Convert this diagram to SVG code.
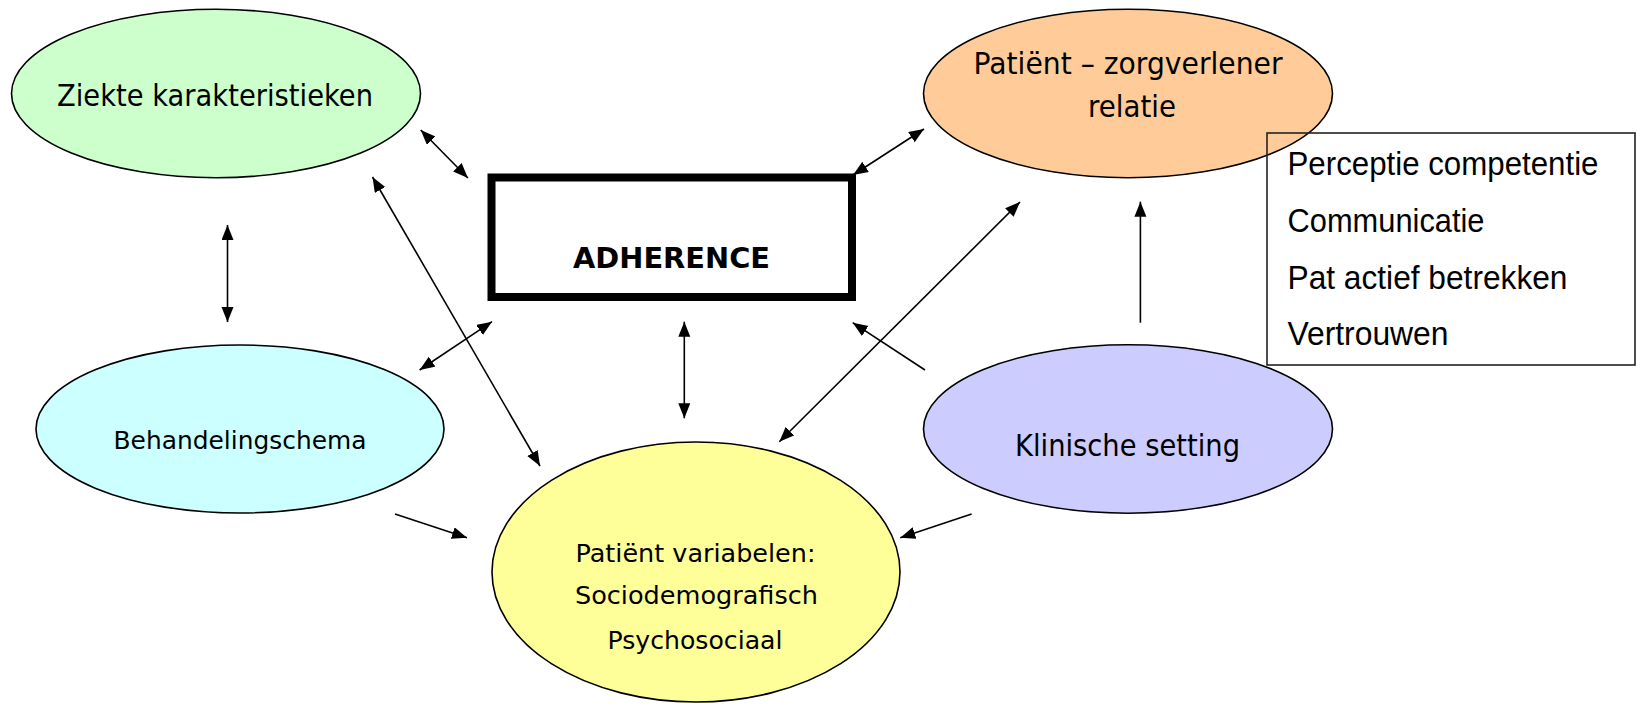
<svg xmlns="http://www.w3.org/2000/svg" width="1636" height="704" viewBox="0 0 1636 704">
<style>
.node ellipse{stroke:#000;stroke-width:1.6}
.t{font-family:"DejaVu Sans","Liberation Sans",sans-serif;fill:#000;text-anchor:middle}
.lt{font-family:"Liberation Sans","DejaVu Sans",sans-serif;fill:#000}
.c line{stroke:#000;stroke-width:1.6;fill:none}
.dbl{marker-start:url(#ah);marker-end:url(#ah)}
.one{marker-end:url(#ah)}
</style>
<defs>
<marker id="ah" markerUnits="userSpaceOnUse" markerWidth="16" markerHeight="13" refX="15" refY="6" orient="auto-start-reverse">
<path d="M0,0 L15,6 L0,12 z" fill="#000"/>
</marker>
</defs>
<rect width="1636" height="704" fill="#fff"/>
<g id="ziekte" class="node">
<ellipse cx="216" cy="93.5" rx="204.5" ry="84.2" fill="#CCFFCC"/>
<text class="t" x="215" y="106" font-size="31" textLength="316" lengthAdjust="spacingAndGlyphs">Ziekte karakteristieken</text>
</g>
<g id="relatie" class="node">
<ellipse cx="1128" cy="93.5" rx="204.5" ry="84.2" fill="#FFCC99"/>
<text class="t" x="1128" y="73.5" font-size="30" textLength="309" lengthAdjust="spacingAndGlyphs">Patiënt – zorgverlener</text>
<text class="t" x="1132" y="117" font-size="30" textLength="88" lengthAdjust="spacingAndGlyphs">relatie</text>
</g>
<g id="behandeling" class="node">
<ellipse cx="240" cy="429" rx="204" ry="84" fill="#CCFFFF"/>
<text class="t" x="240" y="449" font-size="24" textLength="253" lengthAdjust="spacingAndGlyphs">Behandelingschema</text>
</g>
<g id="klinisch" class="node">
<ellipse cx="1128" cy="429" rx="204.5" ry="84.2" fill="#CCCCFF"/>
<text class="t" x="1127.5" y="455.5" font-size="31" textLength="225" lengthAdjust="spacingAndGlyphs">Klinische setting</text>
</g>
<g id="patient" class="node">
<ellipse cx="696" cy="572" rx="204" ry="130" fill="#FFFF99"/>
<text class="t" x="695.5" y="562" font-size="24" textLength="240" lengthAdjust="spacingAndGlyphs">Patiënt variabelen:</text>
<text class="t" x="696.5" y="604" font-size="24" textLength="243" lengthAdjust="spacingAndGlyphs">Sociodemografisch</text>
<text class="t" x="695" y="648.5" font-size="24" textLength="175" lengthAdjust="spacingAndGlyphs">Psychosociaal</text>
</g>
<g id="adherence">
<rect x="491.5" y="177.5" width="360.5" height="119.5" fill="#fff" stroke="#000" stroke-width="8"/>
<text class="t" x="671.5" y="268" font-size="28" font-weight="bold" textLength="197" lengthAdjust="spacingAndGlyphs">ADHERENCE</text>
</g>
<g id="factoren">
<rect x="1267" y="133" width="368" height="232" fill="none" stroke="#222" stroke-width="1.6"/>
<text class="lt" x="1287.5" y="175" font-size="34" textLength="311" lengthAdjust="spacingAndGlyphs">Perceptie competentie</text>
<text class="lt" x="1287.5" y="231.5" font-size="34" textLength="197" lengthAdjust="spacingAndGlyphs">Communicatie</text>
<text class="lt" x="1287.5" y="288.5" font-size="34" textLength="280" lengthAdjust="spacingAndGlyphs">Pat actief betrekken</text>
<text class="lt" x="1287.5" y="345" font-size="34" textLength="161" lengthAdjust="spacingAndGlyphs">Vertrouwen</text>
</g>
<g id="connectors" class="c">
<line class="dbl" x1="227.5" y1="225" x2="227.5" y2="322"/>
<line class="dbl" x1="420.7" y1="130" x2="467.9" y2="178"/>
<line class="dbl" x1="372.5" y1="177" x2="540" y2="466"/>
<line class="dbl" x1="419.6" y1="370" x2="492" y2="321.7"/>
<line class="one" x1="395" y1="514" x2="467" y2="537.7"/>
<line class="dbl" x1="684.3" y1="321.7" x2="684.3" y2="418.3"/>
<line class="dbl" x1="1020" y1="202" x2="779.3" y2="441.7"/>
<line class="one" x1="925" y1="370" x2="852.7" y2="322.7"/>
<line class="one" x1="971.6" y1="514" x2="900.3" y2="537.7"/>
<line class="dbl" x1="853" y1="175" x2="924" y2="129"/>
<line class="one" x1="1140.4" y1="322.7" x2="1140.4" y2="201.7"/>
</g>
</svg>
